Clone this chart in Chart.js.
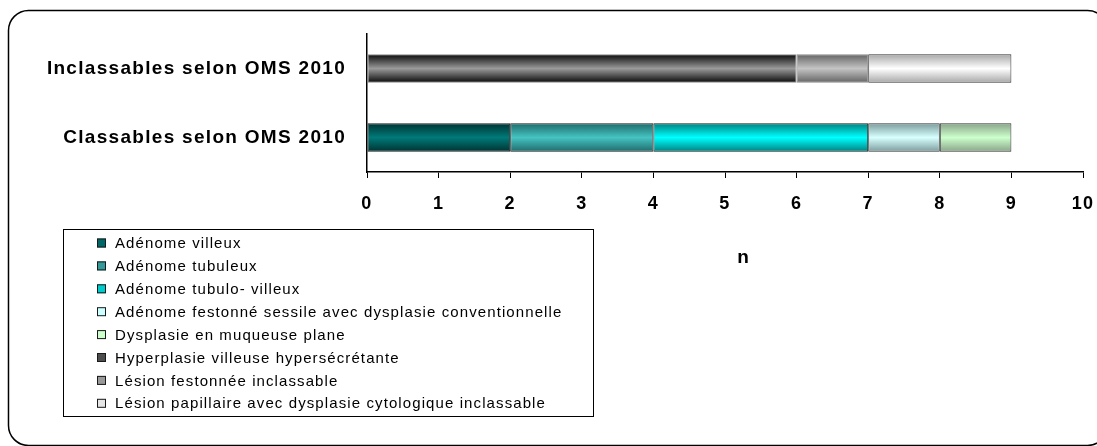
<!DOCTYPE html>
<html>
<head>
<meta charset="utf-8">
<script src="https://cdn.jsdelivr.net/npm/chart.js@4.4.1/dist/chart.umd.min.js"></script>
<style>
  html, body { margin: 0; padding: 0; background: #ffffff; }
  #wrap { width: 1097px; height: 446px; position: relative; }
</style>
</head>
<body>
<div id="wrap"><canvas id="c" width="1097" height="446"></canvas></div>
<script>
// Categories (top to bottom)
const categories = ['Inclassables selon OMS 2010', 'Classables selon OMS 2010'];

// Series names
const seriesNames = [
  'Adénome villeux',
  'Adénome tubuleux',
  'Adénome tubulo- villeux',
  'Adénome festonné sessile avec dysplasie conventionnelle',
  'Dysplasie en muqueuse plane',
  'Hyperplasie villeuse hypersécrétante',
  'Lésion festonnée inclassable',
  'Lésion papillaire avec dysplasie cytologique inclassable'
];

// Counts per series: [Inclassables, Classables]
const adenomeVilleux      = [null, 2];
const adenomeTubuleux     = [null, 2];
const adenomeTubuloVill   = [null, 3];
const adenomeFestonne     = [null, 1];
const dysplasiePlane      = [null, 1];
const hyperplasieVilleuse = [6, null];
const lesionFestonnee     = [1, null];
const lesionPapillaire    = [2, null];

const seriesValues = [
  adenomeVilleux, adenomeTubuleux, adenomeTubuloVill, adenomeFestonne,
  dysplasiePlane, hyperplasieVilleuse, lesionFestonnee, lesionPapillaire
];

// Axis tick labels
const xTicks = [0, 1, 2, 3, 4, 5, 6, 7, 8, 9, 10];

// Fill styles: edge colour / centre colour of the cylinder-like shading
const shades = [
  { edge: '#003333', mid: '#007a78', swatch: '#006666', border: '#1a1a1a' },
  { edge: '#1f6b6b', mid: '#45c4c2', swatch: '#339999', border: '#1a1a1a' },
  { edge: '#008080', mid: '#00ffff', swatch: '#00cccc', border: '#1a1a1a' },
  { edge: '#7c9c9c', mid: '#d8ffff', swatch: '#ccffff', border: '#333333' },
  { edge: '#8aa48a', mid: '#ccffcc', swatch: '#ccffcc', border: '#333333' },
  { edge: '#0a0a0a', mid: '#9a9a9a', swatch: '#4d4d4d', border: '#8a8a8a' },
  { edge: '#646464', mid: '#c4c4c4', swatch: '#999999', border: '#8a8a8a' },
  { edge: '#a8a8a8', mid: '#ffffff', swatch: '#e6e6e6', border: '#333333' }
];

const FONT = "'Liberation Sans', Arial, sans-serif";
const BAR_FRACTION = 0.41;

function barFill(i) {
  return function (ctx) {
    const chart = ctx.chart;
    const y = chart.scales && chart.scales.y;
    const s = shades[i];
    if (!y || ctx.dataIndex === undefined || !isFinite(y.getPixelForValue(ctx.dataIndex))) return s.mid;
    const centre = y.getPixelForValue(ctx.dataIndex);
    const half = (y.height / categories.length) * BAR_FRACTION / 2;
    const g = chart.ctx.createLinearGradient(0, centre - half, 0, centre + half);
    g.addColorStop(0, s.edge);
    g.addColorStop(0.5, s.mid);
    g.addColorStop(1, s.edge);
    return g;
  };
}

const datasets = seriesNames.map((name, i) => ({
  label: name,
  data: seriesValues[i],
  backgroundColor: barFill(i),
  borderColor: shades[i].border,
  borderWidth: 1,
  borderSkipped: false,
  categoryPercentage: 1,
  barPercentage: BAR_FRACTION
}));

// Wider letter spacing for axis text
const spacing = {
  id: 'spacing',
  beforeDraw(chart) { chart.ctx.letterSpacing = '1.3px'; },
  afterDraw(chart) { chart.ctx.letterSpacing = '0px'; }
};

// Frame, free-standing legend and axis title
const decorations = {
  id: 'decorations',
  afterDraw(chart) {
    const c = chart.ctx;
    c.save();
    // rounded outer frame
    c.strokeStyle = '#000000';
    c.lineWidth = 1.5;
    c.beginPath();
    c.roundRect(8.5, 10.5, 1099, 435, 20);
    c.stroke();

    // axis title
    c.fillStyle = '#000000';
    c.font = 'bold 19px ' + FONT;
    c.textAlign = 'center';
    c.textBaseline = 'middle';
    c.fillText('n', 743, 258);

    // legend box
    c.lineWidth = 1;
    c.strokeStyle = '#000000';
    c.strokeRect(63.5, 229.5, 530, 187);
    c.font = '15px ' + FONT;
    c.textAlign = 'left';
    c.letterSpacing = '1.1px';
    const step = 22.9;
    seriesNames.forEach((name, i) => {
      const cy = 243 + i * step;
      c.fillStyle = shades[i].swatch;
      c.fillRect(97, cy - 4.5, 9, 9);
      c.strokeStyle = '#1a1a1a';
      c.strokeRect(97.5, cy - 4, 8, 8);
      c.fillStyle = '#000000';
      c.fillText(name, 115, cy + 1);
    });
    c.restore();
  }
};

new Chart(document.getElementById('c'), {
  type: 'bar',
  data: { labels: categories, datasets },
  plugins: [spacing, decorations],
  options: {
    indexAxis: 'y',
    responsive: false,
    animation: false,
    layout: { padding: { left: 0, right: 14, top: 34, bottom: 0 } },
    plugins: { legend: { display: false }, tooltip: { enabled: false } },
    scales: {
      x: {
        stacked: true,
        min: 0,
        max: 10,
        afterBuildTicks(scale) { scale.ticks = xTicks.map(v => ({ value: v })); },
        afterFit(scale) {
          scale.height = 446 - 172;
          scale.paddingLeft = 0;
          scale.paddingRight = 0;
        },
        grid: { drawOnChartArea: false, drawTicks: true, tickLength: 6, color: '#000000' },
        border: { color: '#000000', width: 1.5 },
        ticks: { color: '#000000', font: { family: FONT, size: 18, weight: 'bold' }, padding: 15, maxRotation: 0 }
      },
      y: {
        stacked: true,
        afterFit(scale) { scale.width = 367; },
        grid: { display: true, drawOnChartArea: false, drawTicks: false, color: '#000000' },
        border: { color: '#000000', width: 1.5 },
        ticks: { color: '#000000', font: { family: FONT, size: 19, weight: 'bold' }, padding: 21 }
      }
    }
  }
});
</script>
</body>
</html>
